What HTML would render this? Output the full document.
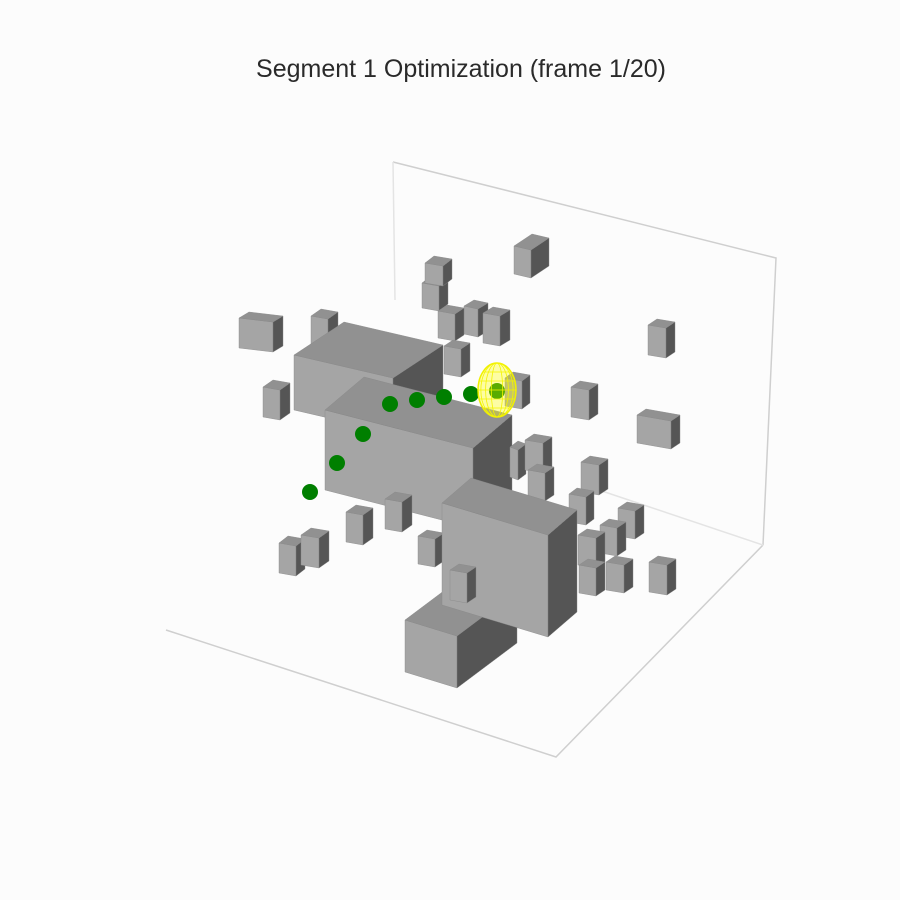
<!DOCTYPE html>
<html><head><meta charset="utf-8"><style>
html,body{margin:0;padding:0;background:#fcfcfc;}
svg{display:block;font-family:"Liberation Sans",sans-serif;}
</style></head><body>
<svg width="900" height="900" viewBox="0 0 900 900">
<rect width="900" height="900" fill="#fcfcfc"/>
<text x="461" y="77" text-anchor="middle" font-size="25" fill="#2a2a2a">Segment 1 Optimization (frame 1/20)</text>
<g stroke="#cfcfcf" stroke-width="1.5" fill="none">
<polyline points="393,162 776,258 763,545"/>
<line x1="393" y1="162" x2="395" y2="300" stroke="#e4e4e4"/>
<polyline points="166,630 556,757 763,545"/>
<line x1="590" y1="487" x2="763" y2="545" stroke="#e4e4e4"/>
</g>
<g id="scene"></g>
</svg>
<script>
// obstacle boxes: [x, y, frontWidth, frontSlope, depthDx, depthDy, height] (screen)
const boxesBack = [
[514,246,17,4,18,-12,28],[422,283,17,3,9,-7,25],[425,263,18,3,9,-7,20],
[239,318,34,4,10,-6,30],[311,316,17,3,10,-7,30],[464,306,14,3,10,-6,28],
[483,313,17,3,10,-6,30],[438,311,17,3,9,-6,27],
[294,355,99,23,50,-33,55],[444,346,17,3,9,-6,28],[263,387,17,3,10,-7,30],
[648,325,18,3,9,-6,30],[571,387,18,3,9,-6,30],[637,415,34,6,9,-6,28],
[505,378,17,3,8,-6,28],
[325,410,148,38,39,-33,80]
];
const pathX = [310,337,363,390,417,444,471,497];
const pathY = [492,463,434,404,400,397,394,391];
const boxesFront = [
[510,447,8,3,8,-6,30],[525,440,18,3,9,-6,30],[528,470,17,3,9,-6,28],
[581,462,18,3,9,-6,30],[569,494,17,3,8,-6,28],[618,508,17,3,9,-6,28],[600,525,17,3,9,-6,28],
[346,512,17,3,10,-7,30],[385,499,17,3,10,-7,30],[279,543,17,3,9,-7,30],[301,535,18,3,10,-7,30],
[418,536,17,3,9,-6,28],
[405,620,52,16,60,-45,52],
[442,503,106,32,29,-25,102],
[578,535,18,3,9,-6,30],[579,565,17,3,9,-6,28],[606,562,18,3,9,-6,28],[649,562,18,3,9,-6,30],
[450,570,17,3,9,-6,30]
];
const goal = [497,390];
const NS='http://www.w3.org/2000/svg';
const scene=document.getElementById('scene');
function poly(pts,fill,name){
  const p=document.createElementNS(NS,'polygon');
  p.setAttribute('points',pts.map(q=>q[0]+','+q[1]).join(' '));
  p.setAttribute('fill',fill);
  p.setAttribute('stroke','#888');
  p.setAttribute('stroke-width','0.4');
  
  
  return p;
}
function drawBox(b){
  const [x,y,w,s,dx,dy,h]=b;
  const g=document.createElementNS(NS,'g');
  
  
  const P=[x,y],A=[x+w,y+s],B=[x+w+dx,y+s+dy],C=[x+dx,y+dy];
  g.appendChild(poly([P,A,[A[0],A[1]+h],[P[0],P[1]+h]],'#a5a5a5','box-front'));
  g.appendChild(poly([A,B,[B[0],B[1]+h],[A[0],A[1]+h]],'#555555','box-side'));
  g.appendChild(poly([P,A,B,C],'#919191','box-top'));
  scene.appendChild(g);
}
boxesBack.forEach(drawBox);
for(let i=0;i<pathX.length;i++){
  const c=document.createElementNS(NS,'circle');
  c.setAttribute('cx',pathX[i]);c.setAttribute('cy',pathY[i]);c.setAttribute('r',8);
  c.setAttribute('fill','#007f00');
  
  
  scene.appendChild(c);
}
const eg=document.createElementNS(NS,'g');


const e=document.createElementNS(NS,'ellipse');
e.setAttribute('cx',goal[0]);e.setAttribute('cy',goal[1]);e.setAttribute('rx',19);e.setAttribute('ry',27);
e.setAttribute('fill','rgba(255,255,0,0.35)');e.setAttribute('stroke','#f0f000');e.setAttribute('stroke-width','1.5');
eg.appendChild(e);
[0.3,0.6,0.85].forEach(f=>{
  const m=document.createElementNS(NS,'ellipse');
  m.setAttribute('cx',goal[0]);m.setAttribute('cy',goal[1]);m.setAttribute('rx',19*f);m.setAttribute('ry',27);
  m.setAttribute('fill','none');m.setAttribute('stroke','#f4f400');m.setAttribute('stroke-width','0.8');
  eg.appendChild(m);
});
[-18,-9,0,9,18].forEach(d=>{
  const l=document.createElementNS(NS,'line');
  const hw=19*Math.sqrt(1-(d/27)*(d/27));
  l.setAttribute('x1',goal[0]-hw);l.setAttribute('x2',goal[0]+hw);
  l.setAttribute('y1',goal[1]+d);l.setAttribute('y2',goal[1]+d);
  l.setAttribute('stroke','#f4f400');l.setAttribute('stroke-width','0.8');
  eg.appendChild(l);
});
scene.appendChild(eg);
boxesFront.forEach(drawBox);
</script>
</body></html>
